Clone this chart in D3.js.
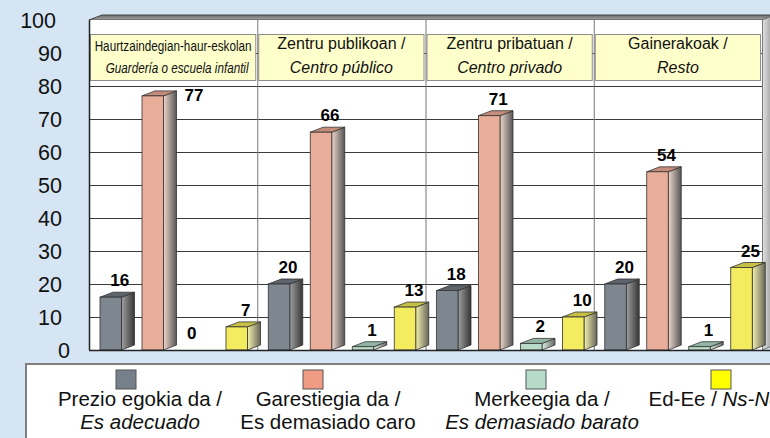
<!DOCTYPE html>
<html><head><meta charset="utf-8">
<script src="https://cdn.jsdelivr.net/npm/d3@7"></script>
<style>
html,body{margin:0;padding:0;background:#d5e5f3;}
svg{display:block;font-family:"Liberation Sans",Arial,sans-serif;}
</style></head>
<body>
<svg id="chart" width="770" height="438"></svg>
<script>
// ---- data ----
const categories = ["Haurtzaindegian", "Publico", "Privado", "Resto"];
const catLine1 = ["Haurtzaindegian-haur-eskolan", "Zentru publikoan /", "Zentru pribatuan /", "Gainerakoak /"];
const catLine2 = ["Guardería o escuela infantil", "Centro público", "Centro privado", "Resto"];
const seriesKeys = ["adecuado", "caro", "barato", "nsnc"];
const seriesLine1 = ["Prezio egokia da /", "Garestiegia da /", "Merkeegia da /", "Ed-Ee / "];
const seriesLine2 = ["Es adecuado", "Es demasiado caro", "Es demasiado barato", ""];
const valuesAdecuado = [16, 20, 18, 20];
const valuesCaro = [77, 66, 71, 54];
const valuesBarato = [0, 1, 2, 1];
const valuesNsNc = [7, 13, 10, 25];
const yTicks = [0, 10, 20, 30, 40, 50, 60, 70, 80, 90, 100];

// ---- styles / layout ----
const seriesValues = [valuesAdecuado, valuesCaro, valuesBarato, valuesNsNc];
const frontCol = ["#7e868f", "#e8ae99", "#b9dcca", "#f2ec5e"];
const topCol = ["#5d646b", "#c48c79", "#93b6a4", "#c6bf48"];
const sideCol = [["#a0a0a0", "#353535"], ["#eed6cc", "#555555"], ["#dcefe5", "#666666"], ["#f5f2ae", "#66665a"]];
const swatchCol = ["#76808a", "#f09c84", "#b6dcc9", "#ffff00"];
const legendSwatchX = [126, 313, 536, 721];
const legendTextX = [140, 328, 542, 714];
const DX = 13, DY = 5;

const svg = d3.select("#chart");
const defs = svg.append("defs");
sideCol.forEach((c, i) => {
  const g = defs.append("linearGradient").attr("id", "side" + i).attr("x1", 0).attr("x2", 1).attr("y1", 0).attr("y2", 0);
  g.append("stop").attr("offset", "0%").attr("stop-color", c[0]);
  g.append("stop").attr("offset", "100%").attr("stop-color", c[1]);
});
const gTop = defs.append("linearGradient").attr("id", "frameTop").attr("x1", 0).attr("x2", 0).attr("y1", 0).attr("y2", 1);
gTop.append("stop").attr("offset", "0%").attr("stop-color", "#6a6a6a");
gTop.append("stop").attr("offset", "100%").attr("stop-color", "#a8a8a8");
const gRight = defs.append("linearGradient").attr("id", "frameRight").attr("x1", 0).attr("x2", 1).attr("y1", 0).attr("y2", 0);
gRight.append("stop").attr("offset", "0%").attr("stop-color", "#e6e6e6");
gRight.append("stop").attr("offset", "100%").attr("stop-color", "#8a8a8a");

const pLeft = 89, pRight = 762, pTop = 20, pBottom = 350;
const x = d3.scaleBand().domain(categories).range([pLeft, pRight]).padding(0);
const xs = d3.scaleBand().domain(seriesKeys).range([11, 158.5]).paddingInner(0.488).paddingOuter(0);
const y = d3.scaleLinear().domain([0, 100]).range([pBottom, pTop]);

// frame: top slab & right wall
svg.append("polygon")
  .attr("points", [[pLeft, pTop], [pLeft + DX, pTop - DY], [pRight + DX, pTop - DY], [pRight, pTop]].join(" "))
  .attr("fill", "url(#frameTop)").attr("stroke", "#444").attr("stroke-width", 1);
svg.append("polygon")
  .attr("points", [[pRight, pTop], [pRight + DX, pTop - DY], [pRight + DX, pBottom - DY], [pRight, pBottom]].join(" "))
  .attr("fill", "url(#frameRight)").attr("stroke", "#777").attr("stroke-width", 1);

// back wall
svg.append("rect").attr("x", pLeft).attr("y", pTop).attr("width", pRight - pLeft).attr("height", pBottom - pTop).attr("fill", "#fff");

// grid
svg.append("g").selectAll("line").data(yTicks.filter(t => t > 0 && t < 100)).join("line")
  .attr("x1", pLeft).attr("x2", pRight).attr("y1", d => y(d) + 0.5).attr("y2", d => y(d) + 0.5)
  .attr("stroke", "#3a3a3a").attr("stroke-width", 1);
svg.append("g").selectAll("line").data(categories.slice(1).concat(["__end"])).join("line")
  .attr("x1", d => (d === "__end" ? pRight : x(d)) + 0.5).attr("x2", d => (d === "__end" ? pRight : x(d)) + 0.5)
  .attr("y1", pTop).attr("y2", pBottom).attr("stroke", "#777").attr("stroke-width", 1);

// header boxes
const hdr = svg.append("g").selectAll("g").data(categories).join("g");
const hTop = 34, hBot = 80;
hdr.append("rect").attr("x", d => x(d) + 1.5).attr("y", hTop + 0.5).attr("width", x.bandwidth() - 3).attr("height", hBot - hTop)
  .attr("fill", "#ffffcc").attr("stroke", "#8c8c8c").attr("stroke-width", 1);
function fitText(sel, cx, cy, maxW) {
  const node = sel.node();
  const natural = node.getComputedTextLength();
  const k = Math.min(1, maxW / natural);
  sel.attr("x", 0).attr("y", 0).attr("transform", `translate(${cx},${cy}) scale(${k},1)`);
}
hdr.append("text").attr("text-anchor", "middle").attr("font-size", (d, i) => i === 0 ? 15.5 : 16).attr("fill", "#111")
  .text((d, i) => catLine1[i])
  .each(function (d, i) { fitText(d3.select(this), x(d) + x.bandwidth() / 2, i === 0 ? 51 : 49, i === 0 ? 157 : 160); });
hdr.append("text").attr("text-anchor", "middle").attr("font-size", (d, i) => i === 0 ? 15.5 : 16).attr("font-style", "italic").attr("fill", "#111")
  .text((d, i) => catLine2[i])
  .each(function (d, i) { fitText(d3.select(this), x(d) + x.bandwidth() / 2 + (i === 0 ? 4 : 0), 73, i === 0 ? 143 : 160); });

// bars
const barData = [];
categories.forEach((c, ci) => seriesKeys.forEach((s, si) => barData.push({ c, s, si, v: seriesValues[si][ci] })));
const bars = svg.append("g").selectAll("g").data(barData).join("g");
const w = xs.bandwidth();
bars.each(function (d) {
  const g = d3.select(this);
  const bx = x(d.c) + xs(d.s);
  const by = y(d.v);
  if (d.v > 0) {
    g.append("polygon").attr("points", [[bx + w, by], [bx + w + DX, by - DY], [bx + w + DX, pBottom - DY], [bx + w, pBottom]].join(" "))
      .attr("fill", `url(#side${d.si})`).attr("stroke", "#333").attr("stroke-width", 0.8);
    g.append("polygon").attr("points", [[bx, by], [bx + DX, by - DY], [bx + w + DX, by - DY], [bx + w, by]].join(" "))
      .attr("fill", topCol[d.si]).attr("stroke", "#333").attr("stroke-width", 0.8);
    g.append("rect").attr("x", bx).attr("y", by).attr("width", w).attr("height", pBottom - by)
      .attr("fill", frontCol[d.si]).attr("stroke", "#333").attr("stroke-width", 0.8);
  }
  const lblTop = by - 11 - 13;
  const toRight = lblTop < hBot;
  g.append("text")
    .attr("x", toRight ? bx + w + DX + 8 : bx + w / 2 + (d.v > 0 ? 9 : -3))
    .attr("y", toRight ? by + 5 : Math.min(by - 11, 345))
    .attr("text-anchor", toRight ? "start" : "middle")
    .attr("font-size", 17).attr("font-weight", "bold").attr("fill", "#000")
    .text(d.v);
});

// frame lines
svg.append("line").attr("x1", pLeft + 0.5).attr("x2", pLeft + 0.5).attr("y1", pTop).attr("y2", pBottom).attr("stroke", "#222").attr("stroke-width", 1.5);
svg.append("line").attr("x1", pLeft).attr("x2", pRight + DX).attr("y1", pBottom + 0.5).attr("y2", pBottom + 0.5).attr("stroke", "#222").attr("stroke-width", 1.5);

// y labels
svg.append("g").selectAll("text").data(yTicks).join("text")
  .attr("x", d => d === 100 ? 56 : d === 0 ? 70 : 62).attr("y", d => y(d) + 1).attr("dominant-baseline", "central").attr("text-anchor", "end")
  .attr("font-size", 21.5).attr("fill", "#111").text(d => d);

// legend
svg.append("rect").attr("x", 26).attr("y", 364).attr("width", 800).attr("height", 120)
  .attr("fill", "#fff").attr("stroke", "#808080").attr("stroke-width", 2);
const lg = svg.append("g").selectAll("g").data(seriesKeys).join("g");
lg.append("rect").attr("x", (d, i) => legendSwatchX[i] - 10).attr("y", 370).attr("width", 20).attr("height", 19)
  .attr("fill", (d, i) => swatchCol[i]).attr("stroke", "#555").attr("stroke-width", 1);
lg.append("text").attr("x", (d, i) => legendTextX[i]).attr("y", 406).attr("text-anchor", "middle")
  .attr("font-size", 20.5).attr("fill", "#111")
  .each(function (d, i) {
    const t = d3.select(this);
    t.append("tspan").text(seriesLine1[i]);
    if (i === 3) t.append("tspan").attr("font-style", "italic").text("Ns-Nc");
  });
lg.append("text").attr("x", (d, i) => legendTextX[i]).attr("y", 429).attr("text-anchor", "middle")
  .attr("font-size", 20.5).attr("fill", "#111").attr("font-style", (d, i) => i === 1 ? "normal" : "italic")
  .text((d, i) => seriesLine2[i]);
</script>
</body></html>
